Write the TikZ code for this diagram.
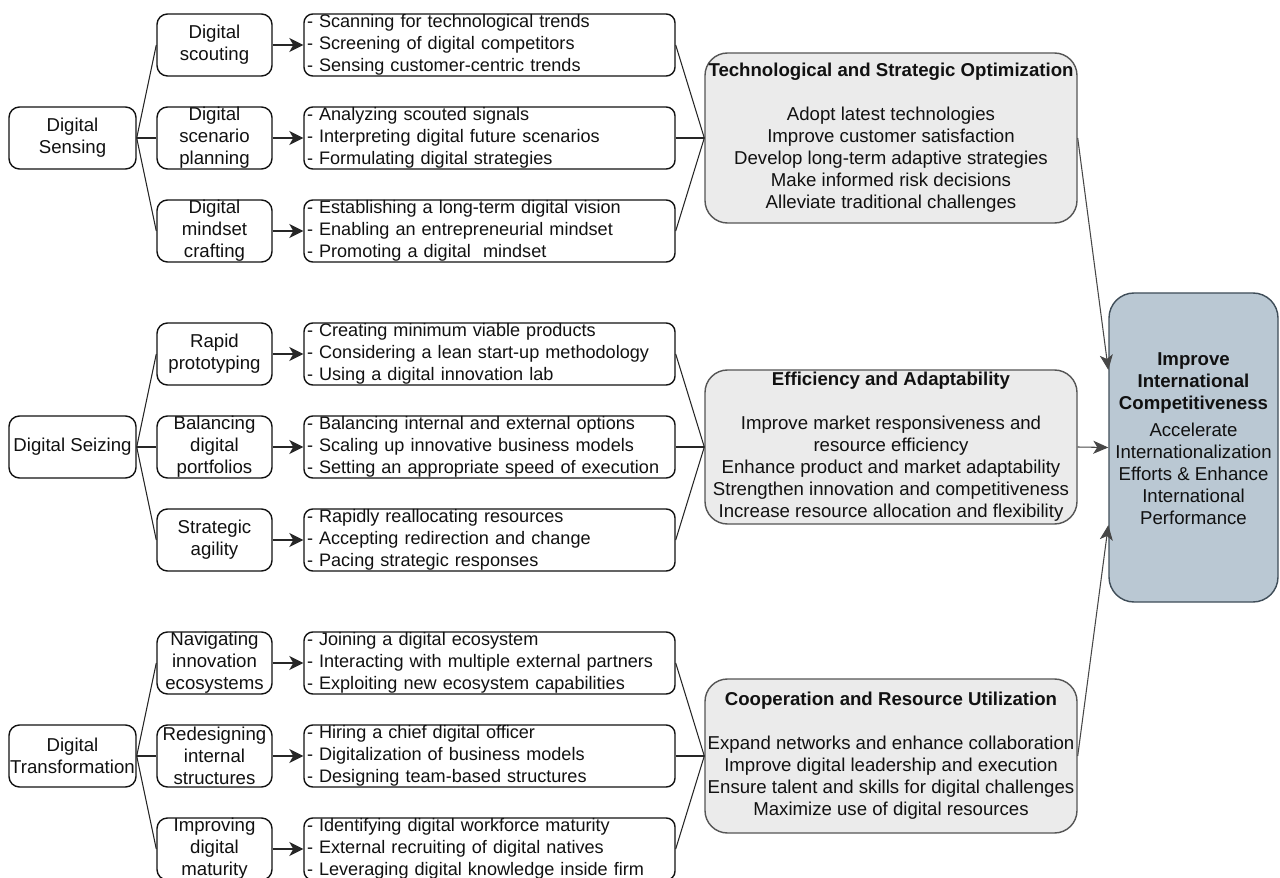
\documentclass[tikz,border=0pt]{standalone}
\usepackage{fontspec}
\setmainfont{Liberation Sans}
\usetikzlibrary{arrows.meta, calc}
\definecolor{ink}{HTML}{111111}
\definecolor{edge}{HTML}{262626}
\definecolor{greyfill}{HTML}{EBEBEB}
\definecolor{greyline}{HTML}{555555}
\definecolor{bluefill}{HTML}{BAC8D3}
\definecolor{blueline}{HTML}{3F4D58}

\begin{document}
\begin{tikzpicture}[
    every node/.style={font=\fontsize{10.6}{12.5}\selectfont, text=ink},
    link/.style={line width=0.6pt, color=edge},
    arr/.style={-{Stealth[length=0.28cm, width=0.28cm, inset=0.08cm]}, line width=0.8pt, color=edge},
    outarr/.style={-{Stealth[length=0.30cm, width=0.26cm, inset=0.08cm]}, line width=0.6pt, color=edge!85},
    capab/.style={
        rectangle, rounded corners=6pt, draw=ink, fill=white, line width=0.8pt,
        align=center, inner sep=0pt, minimum width=2.54cm, minimum height=1.24cm,
    },
    micro/.style={capab, minimum width=2.30cm},
    items/.style={
        capab, rounded corners=5pt, inner xsep=0.06cm, text width=7.30cm, align=left,
        font=\fontsize{10.3}{12.5}\selectfont,
    },
    outcome/.style={
        rectangle, rounded corners=0.45cm, draw=greyline, fill=greyfill, line width=0.8pt,
        align=center, inner sep=0pt, minimum width=7.44cm,
    },
    final/.style={
        rectangle, rounded corners=0.5cm, draw=blueline, fill=bluefill, line width=0.8pt,
        minimum width=3.38cm, minimum height=6.18cm,
    },
]
\fill[white] (0,0) rectangle (25.6,17.54);
\useasboundingbox (0,0) rectangle (25.6,17.54);

% ================================================================ sensing
\node[capab] (sens) at (1.45, 14.78) {Digital\\Sensing};
\node[micro] (sens1) at (4.29, 16.64) {Digital\\scouting};
\node[micro] (sens2) at (4.29, 14.78) {Digital\\scenario\\planning};
\node[micro] (sens3) at (4.29, 12.92) {Digital\\mindset\\crafting};
\node[items] (sens1list) at (9.79, 16.64)
    {- Scanning for technological trends\\- Screening of digital competitors\\- Sensing customer-centric trends};
\node[items] (sens2list) at (9.79, 14.78)
    {- Analyzing scouted signals\\- Interpreting digital future scenarios\\- Formulating digital strategies};
\node[items] (sens3list) at (9.79, 12.92)
    {- Establishing a long-term digital vision\\- Enabling an entrepreneurial mindset\\- Promoting a digital~ mindset};

% ================================================================ seizing
\node[capab] (seiz) at (1.45, 8.60) {Digital Seizing};
\node[micro] (seiz1) at (4.29, 10.46) {Rapid\\prototyping};
\node[micro] (seiz2) at (4.29, 8.60) {Balancing\\digital\\portfolios};
\node[micro] (seiz3) at (4.29, 6.74) {Strategic\\agility};
\node[items] (seiz1list) at (9.79, 10.46)
    {- Creating minimum viable products\\- Considering a lean start-up methodology\\- Using a digital innovation lab};
\node[items] (seiz2list) at (9.79, 8.60)
    {- Balancing internal and external options\\- Scaling up innovative business models\\- Setting an appropriate speed of execution};
\node[items] (seiz3list) at (9.79, 6.74)
    {- Rapidly reallocating resources\\- Accepting redirection and change\\- Pacing strategic responses};

% ================================================================ transformation
\node[capab] (trans) at (1.45, 2.42) {Digital\\Transformation};
\node[micro] (trans1) at (4.29, 4.28) {Navigating\\innovation\\ecosystems};
\node[micro] (trans2) at (4.29, 2.42) {Redesigning\\internal\\structures};
\node[micro] (trans3) at (4.29, 0.56) {Improving\\digital\\maturity};
\node[items] (trans1list) at (9.79, 4.28)
    {- Joining a digital ecosystem\\- Interacting with multiple external partners\\- Exploiting new ecosystem capabilities};
\node[items] (trans2list) at (9.79, 2.42)
    {- Hiring a chief digital officer\\- Digitalization of business models\\- Designing team-based structures};
\node[items] (trans3list) at (9.79, 0.56)
    {- Identifying digital workforce maturity\\- External recruiting of digital natives\\- Leveraging digital knowledge inside firm};

% ================================================================ outcomes
\node[outcome, minimum height=3.40cm] (tech) at (17.82, 14.78)
    {\textbf{Technological and Strategic Optimization}\\[12.5pt]
     Adopt latest technologies\\Improve customer satisfaction\\Develop long-term adaptive strategies\\
     Make informed risk decisions\\Alleviate traditional challenges};
\node[outcome, minimum height=3.08cm] (eff) at (17.82, 8.60)
    {\textbf{Efficiency and Adaptability}\\[12.5pt]
     Improve market responsiveness and\\resource efficiency\\Enhance product and market adaptability\\
     Strengthen innovation and competitiveness\\Increase resource allocation and flexibility};
\node[outcome, minimum height=3.08cm] (coop) at (17.82, 2.42)
    {\textbf{Cooperation and Resource Utilization}\\[12.5pt]
     Expand networks and enhance collaboration\\Improve digital leadership and execution\\
     Ensure talent and skills for digital challenges\\Maximize use of digital resources};

\node[final] (comp) at (23.87, 8.59) {};
\node[align=center, inner sep=0pt] (comptxt) at (23.87, 8.76)
    {\textbf{Improve}\\\textbf{International}\\\textbf{Competitiveness}\\[3pt]
     Accelerate\\Internationalization\\Efforts \& Enhance\\International\\Performance};

% ================================================================ connectors
\foreach \g/\o in {sens/tech, seiz/eff, trans/coop}{
    \foreach \i in {1,2,3}{
        \draw[link] (\g.east) -- (\g\i.west);
        \draw[arr] (\g\i.east) -- (\g\i list.west);
        \draw[link] (\g\i list.east) -- (\o.west);
    }
}
\coordinate (compin1) at ($(comp.north west)!0.25!(comp.south west)$);
\coordinate (compin3) at ($(comp.north west)!0.75!(comp.south west)$);
\draw[outarr] (tech.east) -- (compin1);
\draw[outarr] (eff.east) -- (comp.west);
\draw[outarr] (coop.east) -- (compin3);

\end{tikzpicture}
\end{document}
